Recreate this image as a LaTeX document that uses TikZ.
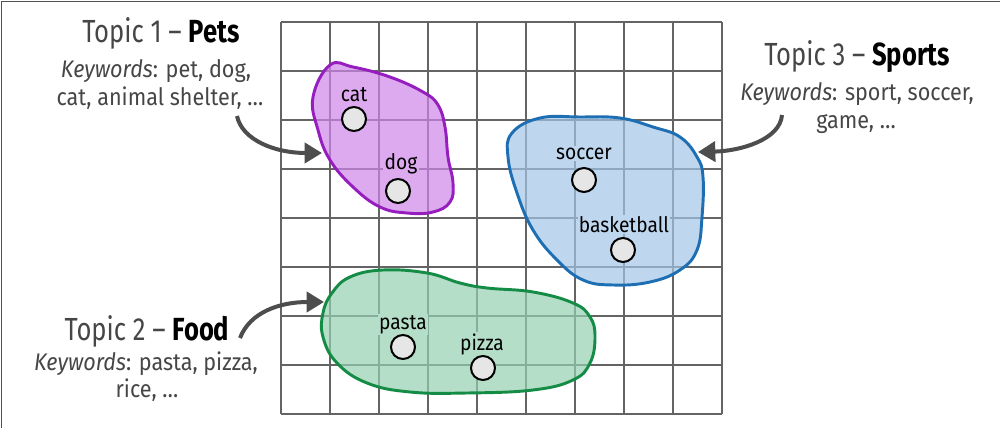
\documentclass[tikz,border=0pt]{standalone}
\usepackage{fontspec}
\usetikzlibrary{arrows.meta}
\setmainfont{Fira Sans}[FakeStretch=0.9]
\newfontfamily\titlelight{Fira Sans}[FakeStretch=0.8]
\newfontfamily\titlesans{Fira Sans}[FakeStretch=0.8]
\definecolor{gridgray}{RGB}{100,100,100}
\definecolor{txtgray}{RGB}{70,70,70}
\definecolor{arrgray}{RGB}{77,77,77}
\definecolor{ptfill}{RGB}{230,230,230}
\definecolor{purpleline}{RGB}{150,30,190}
\definecolor{purplefill}{RGB}{206,134,234}
\definecolor{purplebg}{RGB}{221,170,240}
\definecolor{blueline}{RGB}{30,110,180}
\definecolor{bluefill}{RGB}{163,198,231}
\definecolor{bluebg}{RGB}{190,215,238}
\definecolor{greenline}{RGB}{20,140,70}
\definecolor{greenfill}{RGB}{148,208,176}
\definecolor{greenbg}{RGB}{180,222,200}
\tikzset{
  gridline/.style={draw=gridgray, line width=1.1pt},
  frameline/.style={draw=gridgray!80!black, line width=1.2pt},
  blob/.style={line width=2.2pt, fill opacity=0.7},
  ptnode/.style={circle, draw=black, fill=ptfill, line width=1.5pt, minimum size=18pt, inner sep=0pt},
  wlabel/.style={font=\fontsize{16}{18}\selectfont, text=black, inner sep=1pt, anchor=base},
  ttl/.style={font=\fontsize{24}{28}\selectfont, text=txtgray, anchor=base, inner sep=0pt},
  kw/.style={font=\fontsize{18}{21}\selectfont, text=txtgray, anchor=base, inner sep=0pt},
  arr/.style={draw=arrgray, line width=3pt, -{Triangle[length=13pt, width=15pt]}},
}
\begin{document}
\begin{tikzpicture}[x=0.75pt, y=-0.75pt]
\useasboundingbox (0,0) rectangle (1000,428);
% frame (left and top edges visible)
\coordinate (fbl) at (1.5,428);
\coordinate (ftl) at (1.5,1.5);
\coordinate (ftr) at (1000,1.5);
\draw[frameline] (fbl) -- (ftl) -- (ftr);
% grid 9 x 8 cells
\foreach \i in {0,...,9} {
  \draw[gridline] (281+49*\i,22) -- (281+49*\i,414);
}
\foreach \j in {0,...,8} {
  \draw[gridline] (281,22+49*\j) -- (722,22+49*\j);
}
% blobs
\draw[blob, draw=purpleline, fill=purplefill] plot[smooth cycle, tension=0.7] coordinates {
 (330,65) (313,97) (318,130) (330,160) (353,187) (380,207) (407,213) (433,212)
 (450,202) (453,183) (448,157) (445,127) (438,105) (423,92) (390,77) (353,67)};
\draw[blob, draw=blueline, fill=bluefill] plot[smooth cycle, tension=0.7] coordinates {
 (580,117) (540,118) (512,133) (508,157) (517,193) (533,230) (557,260) (583,280)
 (613,285) (650,282) (680,270) (697,250) (702,217) (703,177) (697,157) (680,137)
 (653,127) (620,118)};
\draw[blob, draw=greenline, fill=greenfill] plot[smooth cycle, tension=0.7] coordinates {
 (332,293) (323,313) (323,337) (337,363) (367,383) (410,392) (467,393) (533,390)
 (573,380) (590,363) (595,337) (590,317) (573,303) (533,292) (487,288) (460,283)
 (427,273) (383,270) (350,277)};
% word labels and points
\node[wlabel, fill=purplebg] (lcat) at (354,102) {cat};
\node[ptnode] (cat) at (354,119) {};
\node[wlabel, fill=purplebg] (ldog) at (401,169) {dog};
\node[ptnode] (dog) at (398,191) {};
\node[wlabel, fill=bluebg] (lsoccer) at (584,159) {soccer};
\node[ptnode] (soccer) at (584,180) {};
\node[wlabel, fill=bluebg] (lbasket) at (624,232) {basketball};
\node[ptnode] (basket) at (623,250) {};
\node[wlabel, fill=greenbg] (lpasta) at (403,329) {pasta};
\node[ptnode] (pasta) at (403,347) {};
\node[wlabel, fill=greenbg] (lpizza) at (482,350) {pizza};
\node[ptnode] (pizza) at (483,368) {};
% topic texts
\node[ttl] (t1) at (161,43) {\titlelight Topic 1 – {\titlesans\bfseries\color{black}Pets}};
\node[kw] (k1a) at (156,78) {\textit{Keywords}: pet, dog,};
\node[kw] (k1b) at (160,105) {cat, animal shelter, \dots};
\node[ttl] (t3) at (857,65) {\titlelight Topic 3 – {\titlesans\bfseries\color{black}Sports}};
\node[kw] (k3a) at (857,101) {\textit{Keywords}: sport, soccer,};
\node[kw] (k3b) at (856,128) {game, \dots};
\node[ttl] (t2) at (147,340) {\titlelight Topic 2 – {\titlesans\bfseries\color{black}Food}};
\node[kw] (k2a) at (146,370) {\textit{Keywords}: pasta, pizza,};
\node[kw] (k2b) at (147,397) {rice, \dots};
% arrows
\coordinate (a1s) at (237,116);
\coordinate (a1e) at (322,153);
\coordinate (a3s) at (782,115);
\coordinate (a3e) at (698,152);
\coordinate (a2s) at (240,338);
\coordinate (a2e) at (324,302);
\draw[arr] (a1s) .. controls (242,140) and (275,153) .. (a1e);
\draw[arr] (a3s) .. controls (780,140) and (740,151) .. (a3e);
\draw[arr] (a2s) .. controls (250,312) and (280,302) .. (a2e);
\end{tikzpicture}
\end{document}
